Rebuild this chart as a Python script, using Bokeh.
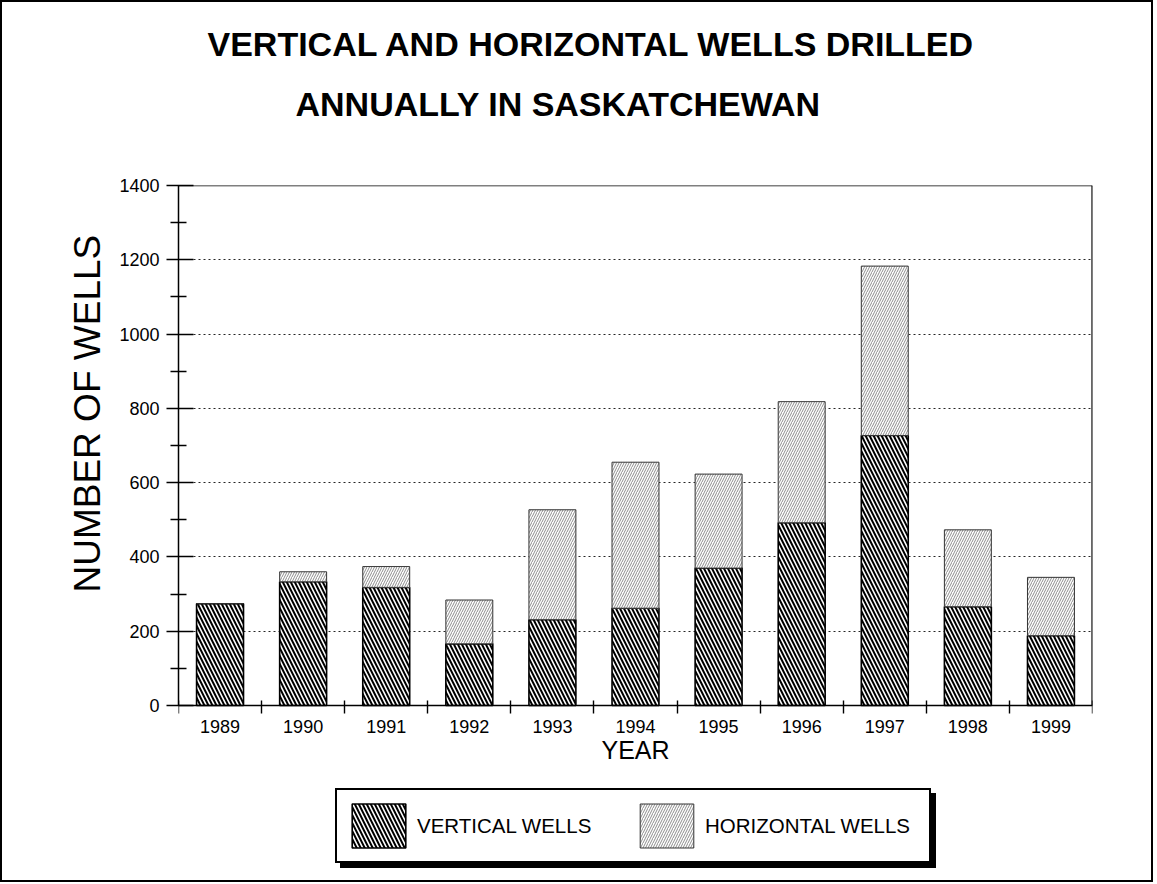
from bokeh.plotting import figure
from bokeh.models import (ColumnDataSource, Range1d, FixedTicker, Legend, LegendItem, Title,
                          Span)
from bokeh.embed import file_html
from bokeh.resources import INLINE

years = [1989, 1990, 1991, 1992, 1993, 1994, 1995, 1996, 1997, 1998, 1999]
vertical_wells = [274, 333, 318, 166, 231, 262, 370, 492, 727, 266, 188]
horizontal_wells = [0, 27, 56, 118, 296, 393, 253, 326, 456, 207, 157]
y_ticks = [0, 200, 400, 600, 800, 1000, 1200, 1400]
series_names = ["VERTICAL WELLS", "HORIZONTAL WELLS"]
title_line1 = "VERTICAL AND HORIZONTAL WELLS DRILLED"
title_line2 = "ANNUALLY IN SASKATCHEWAN"
x_title = "YEAR"
y_title = "NUMBER OF WELLS"

FONT = "Liberation Sans"

# layout (pixels): the frame also holds the x axis and the legend below the bars
PLOT_H = 520          # height of the 0..1400 part
BELOW_H = 171         # space under the zero line (axis labels + legend)
FRAME_W = 914
y_lo = -BELOW_H / PLOT_H * (y_ticks[-1] - y_ticks[0])

src = ColumnDataSource(dict(year=years, vert=vertical_wells, horiz=horizontal_wells))

p = figure(frame_width=FRAME_W, frame_height=PLOT_H + BELOW_H,
           output_backend="svg", toolbar_location=None,
           x_range=Range1d(years[0] - 0.5, years[-1] + 0.5),
           y_range=Range1d(y_lo, y_ticks[-1]),
           min_border_left=176, min_border_right=59, min_border_top=183, min_border_bottom=4,
           title=title_line1)

p.styles = {"border": "2px solid black"}
p.background_fill_color = "white"
p.border_fill_color = "white"
p.outline_line_color = None

# titles: p.title is outermost; line 2 and a spacer sit nearer the frame
p.title.text_font = FONT
p.title.text_font_size = "34px"
p.title.text_font_style = "bold"
p.title.text_color = "black"
p.title.align = "left"
p.title.offset = 29
p.title.standoff = 40
t2 = Title(text=title_line2, text_font=FONT, text_font_size="34px", text_font_style="bold",
           text_color="black", align="left", offset=117, standoff=0)
spacer = Title(text=" ", text_font=FONT, text_font_size="2px", standoff=59)
p.add_layout(spacer, "above")
p.add_layout(t2, "above")

renderers = p.vbar_stack(["vert", "horiz"], x="year", width=0.565, source=src,
                         fill_color="white",
                         line_color=["black", "#333333"],
                         line_width=[1.6, 1.0],
                         hatch_pattern=["\\", "/"],
                         hatch_color=["black", "#808080"],
                         hatch_scale=[8, 5],
                         hatch_weight=[2.0, 0.9])

# top and right edges of the chart box
p.add_layout(Span(location=y_ticks[-1], dimension="width", line_color="black", line_width=1.3))
p.segment(x0=[years[-1] + 0.5], y0=[y_ticks[0]], x1=[years[-1] + 0.5], y1=[y_ticks[-1]],
          line_color="black", line_width=2.2)

# grid
p.xgrid.grid_line_color = None
p.ygrid.grid_line_color = "black"
p.ygrid.grid_line_dash = "2 3"
p.ygrid.grid_line_width = 1
p.ygrid.grid_line_alpha = 0.85

# y axis
p.yaxis.ticker = FixedTicker(ticks=y_ticks,
                             minor_ticks=[v + 100 for v in y_ticks[:-1]])
p.yaxis.bounds = (y_ticks[0], y_ticks[-1])
p.yaxis.major_tick_out = 12
p.yaxis.major_tick_in = 15
p.yaxis.minor_tick_out = 8
p.yaxis.minor_tick_in = 8
p.yaxis.major_label_standoff = 7

ytitle = Title(text=y_title, text_font=FONT, text_font_size="37px", text_font_style="normal",
               text_color="black", align="left", offset=284, standoff=17)
p.add_layout(ytitle, "left")

# x axis at zero: labels at bar centres, tick marks between the years
p.xaxis.fixed_location = 0
p.xaxis.ticker = FixedTicker(ticks=years,
                             minor_ticks=[y - 0.5 for y in years] + [years[-1] + 0.5])
p.xaxis.major_tick_out = 0
p.xaxis.major_tick_in = 0
p.xaxis.minor_tick_out = 8
p.xaxis.minor_tick_in = 5
p.xaxis.major_label_standoff = 6
p.xaxis.axis_label = x_title
p.xaxis.axis_label_text_font = FONT
p.xaxis.axis_label_text_font_size = "25px"
p.xaxis.axis_label_text_font_style = "normal"
p.xaxis.axis_label_standoff = 0

for ax in (p.xaxis[0], p.yaxis[0]):
    ax.axis_line_color = "black"
    ax.axis_line_width = 1.5
    ax.major_tick_line_color = "black"
    ax.major_tick_line_width = 1.4
    ax.minor_tick_line_color = "black"
    ax.minor_tick_line_width = 1.4
    ax.major_label_text_font = FONT
    ax.major_label_text_font_size = "18px"
    ax.major_label_text_color = "black"
    ax.axis_label_text_color = "black"

# legend with a drop shadow (a second, black, label-less legend slightly offset)
def make_legend(x, y, bg, labels):
    items = [LegendItem(label=labels[0], renderers=[renderers[0]]),
             LegendItem(label=labels[1], renderers=[renderers[1]])]
    return Legend(items=items, location=(x, y), orientation="horizontal",
                  glyph_width=67, glyph_height=55, label_height=55, label_width=216,
                  label_standoff=5, spacing=0, padding=8, margin=0,
                  label_text_font=FONT, label_text_font_size="20.5px", label_text_color="black",
                  background_fill_color=bg, background_fill_alpha=1.0,
                  border_line_color="black", border_line_alpha=1.0, border_line_width=2.0)

p.add_layout(make_legend(162, 8, "black", [" ", " "]), "center")
p.add_layout(make_legend(157, 13, "white", series_names), "center")

open("out.html", "w").write(file_html(p, INLINE))
